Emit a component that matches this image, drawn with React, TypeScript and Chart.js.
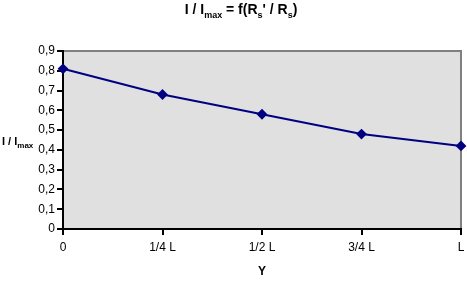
import React, { useEffect, useRef } from "react";
import { Chart, registerables } from "chart.js";

Chart.register(...registerables);

const categories = ["0", "1/4 L", "1/2 L", "3/4 L", "L"];
const ratioValues = [0.81, 0.68, 0.58, 0.48, 0.42];
const yMin = 0;
const yMax = 0.9;
const yStep = 0.1;

const FONT = "'Liberation Sans', Arial, sans-serif";

type Part = { t: string; sub?: boolean };

function drawParts(ctx: CanvasRenderingContext2D, parts: Part[], x: number, y: number, size: number, subSize: number, align: "left" | "center") {
  const mainFont = `bold ${size}px ${FONT}`;
  const subFont = `bold ${subSize}px ${FONT}`;
  let total = 0;
  for (const p of parts) {
    ctx.font = p.sub ? subFont : mainFont;
    total += ctx.measureText(p.t).width;
  }
  let cx = align === "center" ? x - total / 2 : x;
  ctx.textAlign = "left";
  ctx.textBaseline = "alphabetic";
  ctx.fillStyle = "#000";
  for (const p of parts) {
    ctx.font = p.sub ? subFont : mainFont;
    ctx.fillText(p.t, cx, p.sub ? y + Math.round(size * 0.3) : y);
    cx += ctx.measureText(p.t).width;
  }
}

const decorPlugin = {
  id: "decor",
  beforeDraw(chart: any) {
    const { ctx, chartArea } = chart;
    ctx.save();
    ctx.fillStyle = "#e0e0e0";
    ctx.fillRect(chartArea.left, chartArea.top, chartArea.right - chartArea.left, chartArea.bottom - chartArea.top);
    ctx.strokeStyle = "#808080";
    ctx.lineWidth = 2;
    ctx.beginPath();
    ctx.moveTo(chartArea.left, chartArea.top);
    ctx.lineTo(chartArea.right, chartArea.top);
    ctx.lineTo(chartArea.right, chartArea.bottom);
    ctx.stroke();
    ctx.restore();
  },
  afterDraw(chart: any) {
    const { ctx, chartArea } = chart;
    ctx.save();
    drawParts(
      ctx,
      [
        { t: "I / I" },
        { t: "max", sub: true },
        { t: " = f(R" },
        { t: "s", sub: true },
        { t: "' / R" },
        { t: "s", sub: true },
        { t: ")" },
      ],
      241,
      14,
      14,
      9,
      "center"
    );
    drawParts(ctx, [{ t: "I / I" }, { t: "max", sub: true }], 2, 145, 11, 8, "left");
    drawParts(ctx, [{ t: "Y" }], (chartArea.left + chartArea.right) / 2, 275, 12, 8, "center");
    ctx.restore();
  },
};

export default function App() {
  const ref = useRef<HTMLCanvasElement | null>(null);
  useEffect(() => {
    document.body.style.margin = "0";
    const canvas = ref.current;
    if (!canvas) return;
    const chart = new Chart(canvas, {
      type: "line",
      data: {
        labels: categories,
        datasets: [
          {
            data: ratioValues,
            borderColor: "#000080",
            backgroundColor: "#000080",
            borderWidth: 2,
            pointStyle: "rectRot",
            pointRadius: 4,
            pointHoverRadius: 4,
            tension: 0,
            fill: false,
          },
        ],
      },
      options: {
        animation: false,
        responsive: false,
        devicePixelRatio: 1,
        layout: { padding: { left: 0, top: 51, right: 3, bottom: 0 } },
        plugins: { legend: { display: false }, tooltip: { enabled: false }, title: { display: false } },
        scales: {
          x: {
            type: "category",
            offset: false,
            border: { display: true, color: "#000", width: 2 },
            grid: { drawOnChartArea: false, drawTicks: true, tickLength: 6, color: "#000", lineWidth: 2 },
            ticks: { color: "#000", font: { family: FONT, size: 12 }, padding: 5, maxRotation: 0, autoSkip: false },
            afterFit: (s: any) => {
              s.height = 55;
              s.paddingRight = 0;
            },
          },
          y: {
            min: yMin,
            max: yMax,
            border: { display: true, color: "#000", width: 2 },
            grid: { drawOnChartArea: false, drawTicks: true, tickLength: 6, color: "#000", lineWidth: 2 },
            ticks: {
              stepSize: yStep,
              color: "#000",
              font: { family: FONT, size: 12 },
              padding: 2,
              callback: (v: any) => String(Math.round(Number(v) * 10) / 10).replace(".", ","),
            },
            afterFit: (s: any) => {
              s.width = 63;
            },
          },
        },
      },
      plugins: [decorPlugin],
    });
    return () => chart.destroy();
  }, []);
  return <canvas ref={ref} width={467} height={284} style={{ display: "block", width: 467, height: 284 }} />;
}
